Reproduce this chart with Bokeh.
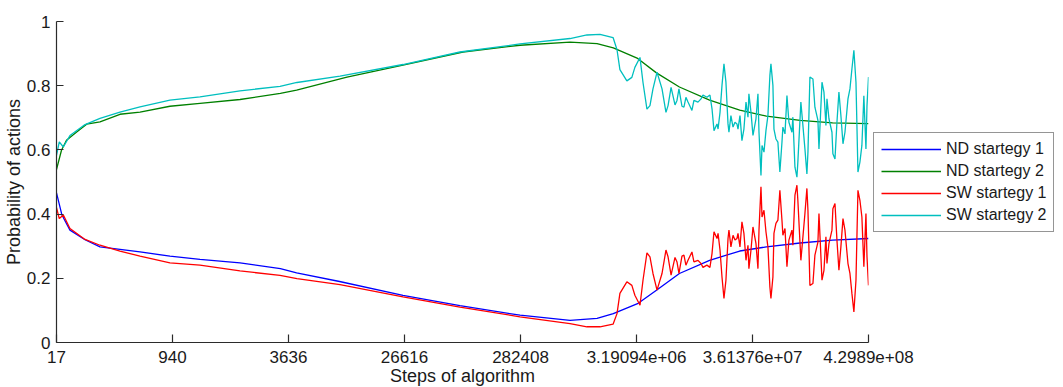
from bokeh.plotting import figure
from bokeh.models import Range1d, FixedTicker, Legend, LegendItem
from bokeh.embed import file_html
from bokeh.resources import INLINE

# ---- data (x = position along the step axis, equally spaced tick marks) ----
x_tick_pos = [0, 100, 200, 300, 400, 500, 600, 700]
x_tick_labels = ["17", "940", "3636", "26616", "282408", "3.19094e+06", "3.61376e+07", "4.2989e+08"]
y_tick_pos = [0, 0.2, 0.4, 0.6, 0.8, 1]
y_tick_labels = ["0", "0.2", "0.4", "0.6", "0.8", "1"]

nd1_x = [0, 4.7, 11.6, 24.6, 37.5, 54.7, 72, 97.8, 123.7, 158.2, 193, 207, 244, 298.7,
         347.8, 399.6, 442.7, 466, 480, 500.9, 517.2, 537, 563, 589, 612, 641, 669, 700]
nd1_y = [0.466, 0.397, 0.35, 0.32, 0.298, 0.29, 0.282, 0.269, 0.259, 0.248, 0.23, 0.217, 0.19, 0.147,
         0.115, 0.085, 0.069, 0.075, 0.09, 0.121, 0.163, 0.215, 0.256, 0.285, 0.298, 0.31, 0.319, 0.324]

nd2_x = [0, 4.3, 8.6, 17.4, 26, 37.5, 54.7, 72, 97.8, 123.7, 158.2, 193, 207, 250.4, 298.7,
         350.4, 399.6, 442.7, 466, 480, 501, 517.2, 537, 563, 589, 612, 641, 669, 700]
nd2_y = [0.539, 0.599, 0.63, 0.656, 0.68, 0.687, 0.711, 0.718, 0.736, 0.745, 0.757, 0.776, 0.786, 0.827, 0.864,
         0.905, 0.926, 0.936, 0.931, 0.918, 0.885, 0.84, 0.796, 0.755, 0.724, 0.705, 0.692, 0.684, 0.682]

sw_x = [0, 2.4, 5.9, 11.6, 24.6, 37.5, 54.7, 72, 97.8, 123.7,
        158.2, 192.7, 207.3, 244.4, 298.7, 347.8, 399.6, 442.7, 457.3, 468.5,
        479.8, 483.2, 485.7, 491.7, 496, 498.6, 503, 505.6, 509, 511.6,
        514.2, 517.7, 522, 525.4, 527.2, 529.8, 533.2, 534.9, 536.6, 539.2,
        540.9, 542.6, 544.4, 547.8, 549.5, 553, 555.6, 557.3, 560.7, 563.3,
        565.1, 566.8, 569.4, 570.3, 572, 573.7, 575.4, 577.1, 578.9, 579.7,
        581.4, 583.2, 584.9, 586.6, 587.5, 589.2, 590.9, 592.6, 594.4, 596.1,
        596.9, 598.7, 600.4, 603, 604.7, 605.6, 607.3, 608.2, 609.9, 611.6,
        613.3, 615, 615.9, 617.6, 618.5, 620.2, 621.9, 623.6, 625.4, 626.2,
        628, 629.7, 631.4, 634, 634.8, 636.6, 638.3, 639.1, 641.7, 642.6,
        645.2, 646.9, 647.8, 649.5, 652.1, 653.8, 656.4, 657.3, 659.9, 661.6,
        663.3, 664.2, 665.9, 668.5, 669.3, 671.1, 672.8, 674.5, 676.2, 678,
        679.7, 682.3, 684, 685.7, 687.4, 689.2, 690.9, 692.6, 694.3, 696,
        697.8, 698.7, 700]

sw1_y = [0.42, 0.386, 0.397, 0.355, 0.321, 0.303, 0.285, 0.269, 0.248, 0.241,
         0.223, 0.209, 0.199, 0.18, 0.142, 0.11, 0.08, 0.059, 0.049, 0.049,
         0.057, 0.09, 0.153, 0.189, 0.178, 0.147, 0.116, 0.194, 0.279, 0.267,
         0.215, 0.163, 0.215, 0.288, 0.267, 0.21, 0.265, 0.251, 0.215, 0.269,
         0.272, 0.241, 0.256, 0.282, 0.251, 0.256, 0.246, 0.234, 0.241, 0.234,
         0.277, 0.345, 0.324, 0.34, 0.288, 0.204, 0.137, 0.194, 0.324, 0.35,
         0.298, 0.334, 0.319, 0.324, 0.34, 0.298, 0.376, 0.34, 0.256, 0.303,
         0.23, 0.288, 0.36, 0.308, 0.23, 0.35, 0.485, 0.391, 0.412, 0.345,
         0.298, 0.173, 0.137, 0.204, 0.34, 0.371, 0.381, 0.474, 0.381, 0.334,
         0.355, 0.236, 0.319, 0.35, 0.303, 0.459, 0.49, 0.443, 0.256, 0.293,
         0.402, 0.48, 0.412, 0.178, 0.184, 0.272, 0.313, 0.402, 0.194, 0.225,
         0.329, 0.246, 0.308, 0.35, 0.417, 0.433, 0.319, 0.225, 0.298, 0.386,
         0.35, 0.246, 0.215, 0.153, 0.095, 0.194, 0.474, 0.443, 0.391, 0.236,
         0.402, 0.267, 0.178]

sw2_y = [0.583, 0.625, 0.609, 0.645, 0.679, 0.698, 0.718, 0.734, 0.755, 0.765,
         0.784, 0.798, 0.81, 0.83, 0.866, 0.905, 0.93, 0.947, 0.958, 0.96,
         0.95, 0.912, 0.85, 0.815, 0.826, 0.857, 0.888, 0.81, 0.727, 0.738,
         0.79, 0.842, 0.79, 0.717, 0.738, 0.795, 0.74, 0.754, 0.79, 0.736,
         0.733, 0.764, 0.749, 0.723, 0.754, 0.749, 0.759, 0.771, 0.764, 0.771,
         0.728, 0.66, 0.681, 0.665, 0.717, 0.801, 0.868, 0.811, 0.681, 0.655,
         0.707, 0.671, 0.686, 0.681, 0.665, 0.707, 0.629, 0.665, 0.749, 0.702,
         0.775, 0.717, 0.645, 0.697, 0.775, 0.655, 0.52, 0.614, 0.593, 0.66,
         0.707, 0.832, 0.868, 0.801, 0.665, 0.634, 0.624, 0.531, 0.624, 0.671,
         0.65, 0.769, 0.686, 0.655, 0.702, 0.546, 0.515, 0.562, 0.749, 0.712,
         0.603, 0.525, 0.593, 0.827, 0.821, 0.733, 0.692, 0.603, 0.811, 0.78,
         0.676, 0.759, 0.697, 0.655, 0.588, 0.572, 0.686, 0.78, 0.707, 0.619,
         0.655, 0.759, 0.79, 0.852, 0.91, 0.811, 0.531, 0.562, 0.614, 0.769,
         0.603, 0.738, 0.827]

series_names = ["ND startegy 1", "ND startegy 2", "SW startegy 1", "SW startegy 2"]
series_colors = ["#0000FF", "#008000", "#FF0000", "#00BFBF"]

FONT = "Liberation Sans"

p = figure(frame_width=812, frame_height=321, output_backend="svg", toolbar_location=None,
           x_range=Range1d(0, 700), y_range=Range1d(0, 1),
           min_border_left=56, min_border_right=195, min_border_top=21, min_border_bottom=44,
           background_fill_color="white", border_fill_color="white")
p.outline_line_color = None
p.grid.visible = False

r1 = p.line(nd1_x, nd1_y, line_color=series_colors[0], line_width=1.3)
r2 = p.line(nd2_x, nd2_y, line_color=series_colors[1], line_width=1.3)
r3 = p.line(sw_x, sw1_y, line_color=series_colors[2], line_width=1.3)
r4 = p.line(sw_x, sw2_y, line_color=series_colors[3], line_width=1.3)

for ax in (p.xaxis[0], p.yaxis[0]):
    ax.axis_line_color = "#2b2b2b"
    ax.axis_line_width = 1.2
    ax.major_tick_line_color = "#2b2b2b"
    ax.major_tick_line_width = 1.2
    ax.major_tick_out = 0
    ax.minor_tick_line_color = None
    ax.major_label_text_font = FONT
    ax.major_label_text_font_size = "17px"
    ax.major_label_text_color = "#1a1a1a"
    ax.axis_label_text_font = FONT
    ax.axis_label_text_font_size = "18px"
    ax.axis_label_text_font_style = "normal"
    ax.axis_label_text_color = "#1a1a1a"

p.xaxis.ticker = FixedTicker(ticks=x_tick_pos)
p.xaxis.major_label_overrides = dict(zip(x_tick_pos, x_tick_labels))
p.xaxis.major_tick_in = 8
p.xaxis.major_label_standoff = 8
p.xaxis.axis_label = "Steps of algorithm"
p.xaxis.axis_label_standoff = 0

p.yaxis.ticker = FixedTicker(ticks=y_tick_pos)
p.yaxis.major_label_overrides = dict(zip(y_tick_pos, y_tick_labels))
p.yaxis.major_tick_in = 7
p.yaxis.major_label_standoff = 6
p.yaxis.axis_label = "Probability of actions"
p.yaxis.axis_label_standoff = 0

legend = Legend(items=[LegendItem(label=series_names[i], renderers=[r])
                       for i, r in enumerate([r1, r2, r3, r4])],
                location="center_left", orientation="vertical",
                border_line_color="#2b2b2b", border_line_width=1.5,
                background_fill_color="white", background_fill_alpha=1,
                padding=7, spacing=4, glyph_width=60, glyph_height=18,
                label_height=18, label_standoff=5,
                label_text_font=FONT, label_text_font_size="16px",
                label_text_color="#1a1a1a", margin=5)
p.add_layout(legend, "right")

open("out.html", "w").write(file_html(p, INLINE))
